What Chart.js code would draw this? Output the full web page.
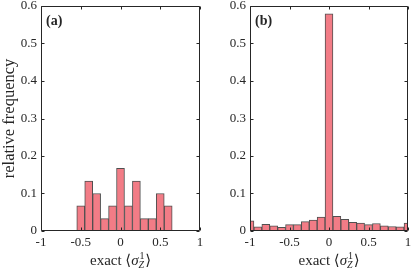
<!DOCTYPE html>
<html lang="en">
<head>
<meta charset="UTF-8">
<title>Histograms</title>
<script src="https://cdn.jsdelivr.net/npm/chart.js"></script>
<style>
    body { margin: 0; background: #fff; }
    #wrap { position: relative; width: 411px; height: 271px; }
    canvas { position: absolute; top: 0; }
</style>
</head>
<body>
<div id="wrap">
    <canvas id="panelA" width="205" height="271" style="left:0"></canvas>
    <canvas id="panelB" width="206" height="271" style="left:205px"></canvas>
</div>
<script>
// bin centres and relative frequencies
const binCentersA = [-0.5, -0.4, -0.3, -0.2, -0.1, 0, 0.1, 0.2, 0.3, 0.4, 0.5, 0.6];
const freqA = [0.067, 0.133, 0.1, 0.033, 0.067, 0.167, 0.067, 0.133, 0.033, 0.033, 0.1, 0.067];

const binCentersB = [-1.0, -0.9, -0.8, -0.7, -0.6, -0.5, -0.4, -0.3, -0.2, -0.1, 0,
                     0.1, 0.2, 0.3, 0.4, 0.5, 0.6, 0.7, 0.8, 0.9, 1.0];
const freqB = [0.027, 0.011, 0.018, 0.014, 0.010, 0.017, 0.017, 0.025, 0.029, 0.037, 0.579,
               0.039, 0.031, 0.023, 0.021, 0.017, 0.020, 0.014, 0.012, 0.011, 0.021];

const xTicks = [-1, -0.5, 0, 0.5, 1];
const xTickLabels = ['-1', '-0.5', '0', '0.5', '1'];
const yTicks = [0, 0.1, 0.2, 0.3, 0.4, 0.5, 0.6];
const yTickLabels = ['0', '0.1', '0.2', '0.3', '0.4', '0.5', '0.6'];

const serif = "'Liberation Serif', 'DejaVu Serif', serif";
const ink = '#262626';

// box, inner ticks, x label with sub/superscript and panel letter
const decor = {
    id: 'decor',
    afterDatasetsDraw(chart, args, opts) {
        const ctx = chart.ctx;
        const a = chart.chartArea;
        const x = chart.scales.x, y = chart.scales.y;
        const L = Math.round(a.left) + 0.5, R = Math.round(a.right) - 0.5;
        const T = Math.round(a.top) + 0.5, B = Math.round(a.bottom) - 0.5;
        ctx.save();
        ctx.strokeStyle = ink;
        ctx.lineWidth = 1;
        ctx.beginPath();
        ctx.rect(L, T, R - L, B - T);
        xTicks.forEach(v => {
            const px = Math.round(x.getPixelForValue(v)) + 0.5;
            ctx.moveTo(px, B); ctx.lineTo(px, B - 3);
            ctx.moveTo(px, T); ctx.lineTo(px, T + 3);
        });
        yTicks.forEach(v => {
            const py = Math.round(y.getPixelForValue(v)) + 0.5;
            ctx.moveTo(L, py); ctx.lineTo(L + 3, py);
            ctx.moveTo(R, py); ctx.lineTo(R - 3, py);
        });
        ctx.stroke();

        // panel letter
        ctx.fillStyle = ink;
        ctx.font = 'bold 14px ' + serif;
        ctx.textBaseline = 'alphabetic';
        ctx.textAlign = 'left';
        ctx.fillText(opts.letter, a.left + 5, a.top + 19);

        // x axis title: exact <sigma^1_Z>
        const big = '15px ' + serif, bigIt = 'italic 15px ' + serif;
        const small = '10px ' + serif, smallIt = 'italic 10px ' + serif;
        const parts = [
            ['exact ', big], ['\u27E8', big], ['\u03C3', bigIt]
        ];
        let w = 0;
        parts.forEach(p => { ctx.font = p[1]; w += ctx.measureText(p[0]).width; });
        ctx.font = smallIt; const wz = ctx.measureText('Z').width;
        ctx.font = small; const w1 = ctx.measureText('1').width;
        const ws = Math.max(wz, w1) + 1;
        ctx.font = big; const wr = ctx.measureText('\u27E9').width;
        w += ws + wr;
        let cx = (a.left + a.right) / 2 - w / 2;
        const base = 265;
        parts.forEach(p => {
            ctx.font = p[1];
            ctx.fillText(p[0], cx, base);
            cx += ctx.measureText(p[0]).width;
        });
        ctx.font = small; ctx.fillText('1', cx + 1, base - 6);
        ctx.font = smallIt; ctx.fillText('Z', cx, base + 3);
        cx += ws;
        ctx.font = big; ctx.fillText('\u27E9', cx, base);
        ctx.restore();
    }
};

function makePanel(id, centers, freqs, letter, yWidth, yTitle) {
    const points = centers.map((c, i) => ({ x: c, y: freqs[i] }));
    new Chart(document.getElementById(id), {
        type: 'bar',
        data: {
            datasets: [{
                data: points,
                backgroundColor: '#F27C86',
                borderColor: '#505050',
                borderWidth: 1,
                borderSkipped: 'start',
                barPercentage: 1,
                categoryPercentage: 1,
                clip: 0
            }]
        },
        options: {
            responsive: false,
            animation: false,
            layout: { padding: { top: 6, right: letter === '(a)' ? 5 : 3, left: 0, bottom: 0 } },
            plugins: {
                legend: { display: false },
                tooltip: { enabled: false },
                decor: { letter: letter }
            },
            scales: {
                x: {
                    type: 'linear',
                    min: -1, max: 1,
                    offset: false,
                    grid: { display: false, drawTicks: false },
                    border: { display: false },
                    afterBuildTicks: s => { s.ticks = xTicks.map(v => ({ value: v })); },
                    afterFit: s => { s.height = 40; s.paddingLeft = 0; s.paddingRight = 0; },
                    ticks: {
                        padding: 4,
                        color: ink,
                        font: { family: serif, size: 13 },
                        maxRotation: 0,
                        autoSkip: false,
                        callback: (v, i) => xTickLabels[i]
                    }
                },
                y: {
                    min: 0, max: 0.6,
                    grid: { display: false, drawTicks: false },
                    border: { display: false },
                    afterBuildTicks: s => { s.ticks = yTicks.map(v => ({ value: v })); },
                    afterFit: s => { s.width = yWidth; s.paddingTop = 0; s.paddingBottom = 0; },
                    title: {
                        display: !!yTitle,
                        text: yTitle || '',
                        color: ink,
                        font: { family: serif, size: 16.5 },
                        padding: 0
                    },
                    ticks: {
                        padding: 4,
                        color: ink,
                        font: { family: serif, size: 13 },
                        autoSkip: false,
                        callback: (v, i) => yTickLabels[i]
                    }
                }
            }
        },
        plugins: [decor]
    });
}

makePanel('panelA', binCentersA, freqA, '(a)', 41, 'relative frequency');
makePanel('panelB', binCentersB, freqB, '(b)', 45, null);
</script>
</body>
</html>
